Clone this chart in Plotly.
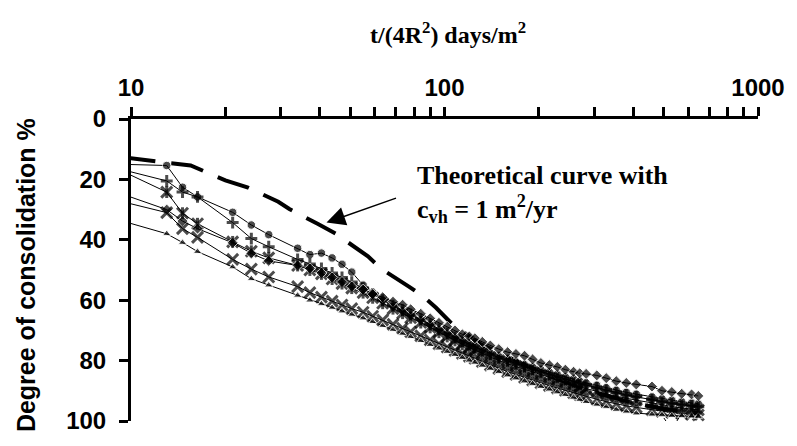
import plotly.graph_objects as go

# Normalised time t/(4R^2) in days/m^2 (shared sampling for all records)
t_norm = [9.4, 13.0, 14.6, 16.3, 21.1, 24.2, 27.5,
          34.0, 37.2, 40.5, 43.8, 47.1, 50.6, 55, 59, 63.5, 68.5, 73.5, 78, 84, 90,
          96, 102, 108, 114, 120, 125, 132, 140, 149, 159, 169, 180, 191, 203, 216,
          229, 243, 258, 270, 283, 306, 328, 353, 380, 409, 459, 494, 531, 571, 614, 645]

# Measured degree of consolidation (%) for each record
u_circle = [15.0, 15.4, 22.6, 25.8, 30.9, 35.1, 38.3,
            42.8, 44.9, 44.4, 46.0, 48.1, 50.7, 55.0, 57.5, 60.0, 62.0, 63.5, 65.0, 66.5, 68.0,
            69.8, 71.0, 72.5, 73.5, 74.5, 75.3, 76.5, 77.5, 78.6, 79.6, 80.5, 81.4, 82.2, 83.0, 83.8,
            84.6, 85.4, 86.1, 86.8, 87.4, 88.2, 89.0, 89.8, 90.5, 91.1, 92.0, 92.6, 93.1, 93.6, 94.0, 94.3]
u_plus = [16.8, 20.5, 24.2, 25.8, 34.3, 39.6, 42.3,
          46.5, 48.0, 49.5, 51.0, 52.5, 54.0, 56.0, 58.0, 60.0, 61.8, 63.3, 64.7, 66.3, 68.0,
          69.6, 71.0, 72.3, 73.6, 74.6, 75.4, 76.6, 77.8, 79.0, 80.0, 81.0, 81.9, 82.8, 83.6, 84.5,
          85.3, 86.1, 86.9, 87.5, 88.1, 89.0, 89.8, 90.6, 91.4, 92.0, 93.0, 93.6, 94.2, 94.6, 95.0, 95.3]
u_star = [17.3, 24.2, 31.2, 34.7, 40.7, 43.8, 46.0,
          48.5, 50.0, 51.3, 53.0, 54.5, 56.0, 57.5, 59.2, 61.0, 62.8, 64.3, 65.8, 67.4, 69.0,
          70.6, 72.0, 73.3, 74.6, 75.7, 76.5, 77.7, 78.9, 80.0, 81.1, 82.0, 83.0, 83.9, 84.8, 85.7,
          86.5, 87.3, 88.1, 88.7, 89.3, 90.2, 91.0, 91.8, 92.5, 93.1, 94.0, 94.7, 95.2, 95.7, 96.0, 96.3]
u_diamond = [24.9, 30.0, 33.8, 36.3, 41.0, 44.5, 47.0,
             48.5, 49.5, 51.0, 52.5, 54.0, 55.5, 56.5, 58.0, 59.0, 60.5, 61.5, 63.0, 64.5, 66.0,
             67.5, 68.8, 70.0, 71.3, 72.0, 72.6, 73.8, 75.0, 76.2, 77.2, 77.8, 78.4, 79.6, 80.8, 81.5,
             82.1, 83.0, 83.7, 84.2, 84.4, 84.9, 85.8, 86.8, 87.4, 87.9, 88.6, 90.0, 90.4, 91.0, 91.2, 91.7]
u_cross = [27.4, 31.0, 36.3, 39.2, 46.5, 49.7, 52.3,
           55.5, 57.5, 59.0, 60.3, 61.6, 62.8, 64.0, 65.3, 66.6, 68.0, 69.3, 70.5, 71.8, 73.2,
           74.5, 75.6, 76.7, 77.7, 78.6, 79.3, 80.4, 81.5, 82.6, 83.7, 84.6, 85.6, 86.5, 87.4, 88.3,
           89.1, 89.9, 90.7, 91.3, 91.9, 92.8, 93.6, 94.4, 95.0, 95.5, 96.3, 96.8, 97.2, 97.5, 97.8, 98.0]
u_triangle = [33.8, 38.0, 40.9, 43.9, 49.0, 52.9, 55.0,
              58.4, 60.0, 61.2, 62.4, 63.6, 64.7, 65.9, 67.1, 68.4, 69.7, 71.0, 72.1, 73.4, 74.7,
              75.9, 77.0, 78.0, 79.0, 79.9, 80.6, 81.6, 82.6, 83.7, 84.8, 85.8, 86.8, 87.7, 88.6, 89.5,
              90.4, 91.3, 92.2, 92.9, 93.6, 94.5, 95.3, 96.2, 96.8, 97.4, 97.8, 98.0, 98.2, 98.3, 98.4, 98.5]

# Dip of one reading just past full consolidation
dip_t = [501, 530, 559]
dip_u = [99.0, 102.8, 99.0]

# Theoretical curve, c_vh = 1 m^2/yr
theory_t = [9.4, 12, 15.5, 20, 23.5, 29.5, 32, 39.5, 45, 57, 63, 77, 85, 94, 106,
            130, 170, 220, 300, 400, 500, 650]
theory_u = [12.7, 13.9, 15.4, 20.3, 22.6, 27.4, 29.8, 34.8, 38.0, 45.5, 49.7, 55.5, 58.5, 62.5, 68.0,
            74.5, 80.0, 85.5, 90.5, 94.0, 96.0, 97.5]

x_ticks = [10, 100, 1000]
x_minor = [20, 30, 40, 50, 60, 70, 80, 90, 200, 300, 400, 500, 600, 700, 800, 900]
y_ticks = [0, 20, 40, 60, 80, 100]

SANS = "Liberation Sans, Arial, sans-serif"
SERIF = "Liberation Serif, Times New Roman, serif"

fig = go.Figure()

fig.add_trace(go.Scatter(
    x=theory_t, y=theory_u, mode="lines", cliponaxis=False,
    line=dict(color="black", width=4, dash="33px,16px"), showlegend=False))

n = len(t_norm)


def sizes(s):
    # the first reading sits just left of the axis and carries no marker
    return [0] + [s] * (n - 1)


series = [
    (u_circle, dict(symbol="circle", size=sizes(8.5), color="black")),
    (u_plus, dict(symbol="cross-thin-open", size=sizes(8.5), color="black",
                  line=dict(color="black", width=3))),
    (u_star, dict(symbol="x-thin-open", size=sizes(11), color="black",
                  line=dict(color="black", width=3))),
    (u_diamond, dict(symbol="diamond", size=sizes(8.5), color="black")),
    (u_cross, dict(symbol="x-thin-open", size=sizes(11), color="black",
                   line=dict(color="black", width=3))),
    (u_triangle, dict(symbol="triangle-up", size=sizes(7.5), color="black")),
]

for u, mk in series:
    fig.add_trace(go.Scatter(
        x=t_norm, y=u, mode="lines+markers", cliponaxis=False,
        line=dict(color="black", width=1), marker=mk, showlegend=False))

# vertical stroke that turns the x markers of the star record into asterisks
fig.add_trace(go.Scatter(
    x=t_norm, y=u_star, mode="markers", cliponaxis=False,
    marker=dict(symbol="line-ns-open", size=sizes(8.5), color="black",
                line=dict(color="black", width=3)), showlegend=False))

fig.add_trace(go.Scatter(
    x=dip_t, y=dip_u, mode="lines", cliponaxis=False,
    line=dict(color="black", width=1), showlegend=False))

fig.update_xaxes(
    type="log", range=[1, 3], side="top",
    showline=True, linecolor="black", linewidth=3, mirror=False,
    showgrid=False, zeroline=False,
    ticks="outside", ticklen=9, tickwidth=3, tickcolor="black",
    tickvals=x_ticks, ticktext=[str(v) for v in x_ticks],
    tickfont=dict(family=SANS, size=24, color="black", weight="bold"),
    ticklabelstandoff=1, ticklabeloverflow="allow",
    minor=dict(tickvals=x_minor, ticks="outside", ticklen=9, tickwidth=3,
               tickcolor="black", showgrid=False),
)
fig.update_yaxes(
    range=[100, 0],
    showline=True, linecolor="black", linewidth=3,
    showgrid=False, zeroline=False,
    ticks="outside", ticklen=9, tickwidth=3, tickcolor="black",
    tickvals=y_ticks, ticktext=[str(v) for v in y_ticks],
    tickfont=dict(family=SANS, size=24, color="black", weight="bold"),
    ticklabelstandoff=8, ticklabeloverflow="allow",
)

fig.update_layout(
    width=797, height=446,
    margin=dict(l=131, r=30, t=119, b=13),
    paper_bgcolor="white", plot_bgcolor="white",
    annotations=[
        dict(text="t/(4R<sup>2</sup>) days/m<sup>2</sup>", xref="paper", yref="paper",
             x=0.506, y=1.286, xanchor="center", yanchor="middle", showarrow=False,
             font=dict(family=SERIF, size=24, color="black", weight="bold")),
        dict(text="Degree of consolidation %", xref="paper", yref="paper",
             x=-0.167, y=0.484, xanchor="center", yanchor="middle", textangle=-90,
             showarrow=False,
             font=dict(family=SANS, size=25, color="black", weight="bold")),
        dict(text="Theoretical curve with<br>c<sub>vh</sub> = 1 m<sup>2</sup>/yr",
             xref="paper", yref="paper", align="left",
             x=0.4528, y=0.753, xanchor="left", yanchor="middle", showarrow=False,
             font=dict(family=SERIF, size=26, color="black", weight="bold")),
        dict(text="", x=1.6236, y=34.3, xref="x", yref="y",
             showarrow=True, ax=71, ay=-25, arrowhead=2, arrowsize=2.5,
             arrowwidth=1.5, arrowcolor="black", standoff=0),
    ],
)

fig.write_html("out.html")
